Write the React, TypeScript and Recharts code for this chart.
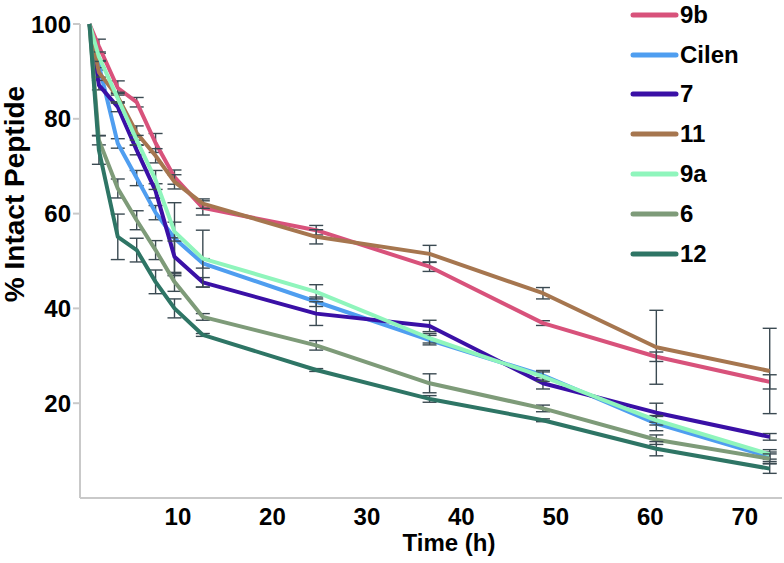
import React from "react";
import { LineChart, Line, XAxis, YAxis, ErrorBar } from "recharts";

// sampling times (h)
const times = [0, 1, 3, 5, 7, 9, 12, 24, 36, 48, 60, 72];

// % intact peptide per compound
const s9b = [100, 95.3, 86.5, 83.5, 74.9, 67.7, 61.2, 56.5, 48.8, 36.9, 29.8, 24.5];
const sCilen = [100, 91.3, 74.8, 67.5, 60.2, 54.8, 49.5, 41.4, 33.3, 25.9, 15.7, 8.7];
const s7 = [100, 87.1, 82.5, 73.4, 64.8, 50.9, 45.5, 38.9, 36.3, 24.2, 18.0, 12.9];
const s11 = [100, 89.8, 84.6, 77.0, 72.2, 66.7, 62.1, 55.1, 51.5, 43.2, 31.8, 26.8];
const s9a = [100, 93.1, 84.3, 75.5, 67.1, 56.2, 50.5, 43.5, 33.7, 25.6, 16.4, 9.2];
const s6 = [100, 75.5, 65.3, 58.6, 52.3, 45.6, 38.2, 32.2, 24.2, 18.9, 12.3, 8.3];
const s12 = [100, 73.4, 55.1, 52.3, 45.6, 40.0, 34.4, 27.0, 20.9, 16.4, 10.4, 6.2];

// error bar half-widths
const e9b = [0, 1.5, 1.5, 1, 2, 1.5, 1.5, 1, 1, 0.5, 1, 1.5];
const eCilen = [0, 1, 1, 1.6, 1.5, 7.5, 1, 1, 1, 1, 1.5, 1];
const e7 = [0, 1, 1, 1, 1.5, 4, 1, 2.5, 1.2, 1.2, 2, 0.7];
const e11 = [0, 1, 1, 1.5, 1.5, 1.5, 1, 1.5, 1.8, 1.2, 7.8, 9];
const e9a = [0, 1, 1, 1, 2, 2, 6, 1.5, 1, 1, 1, 1];
const e6 = [0, 1, 2, 2, 2, 2, 0.7, 1, 2, 0.7, 1, 1];
const e12 = [0, 3, 4.8, 2.5, 2.5, 2, 0.3, 0.3, 0.7, 0.3, 1.5, 1];

const names = ["9b", "Cilen", "7", "11", "9a", "6", "12"];
const colors = ["#d8527b", "#4f9ef0", "#3a10a6", "#a6764f", "#8ff5bc", "#7e9b79", "#2e7565"];
const values = [s9b, sCilen, s7, s11, s9a, s6, s12];
const errors = [e9b, eCilen, e7, e11, e9a, e6, e12];

const xTicks = [10, 20, 30, 40, 50, 60, 70];
const yTicks = [20, 40, 60, 80, 100];

const data = times.map((t, i) => {
  const row: Record<string, number> = { t };
  names.forEach((n, k) => {
    row["v" + n] = values[k][i];
    row["e" + n] = errors[k][i];
  });
  return row;
});

const FONT = "'Liberation Sans', Arial, sans-serif";
const tickStyle = { fontFamily: FONT, fontWeight: 700, fontSize: 24, fill: "#000" };

const YLabel = () => (
  <text
    x={24}
    y={194}
    transform="rotate(-90 24 194)"
    textAnchor="middle"
    style={{ ...tickStyle, fontSize: 28 }}
  >
    % Intact Peptide
  </text>
);

const XLabel = () => (
  <text x={449} y={551} textAnchor="middle" style={tickStyle}>
    Time (h)
  </text>
);

export default function App() {
  return (
    <div style={{ width: 784, height: 563, position: "relative", background: "#fff" }}>
      <style>{"body{margin:0}"}</style>
      <LineChart
        width={784}
        height={563}
        data={data}
        margin={{ top: 24, right: 2, bottom: 35, left: 0 }}
      >
        <XAxis
          dataKey="t"
          type="number"
          domain={[-1, 73.3]}
          ticks={xTicks}
          allowDataOverflow
          height={30}
          tickLine={false}
          tickMargin={4}
          axisLine={{ stroke: "#c9c9c9", strokeWidth: 2 }}
          tick={{ ...tickStyle, dx: -6 }}
          label={XLabel}
        />
        <YAxis
          type="number"
          domain={[0, 100]}
          ticks={yTicks}
          width={80}
          tickSize={7}
          tickMargin={2}
          tickLine={{ stroke: "#c9c9c9", strokeWidth: 2 }}
          axisLine={{ stroke: "#c9c9c9", strokeWidth: 2 }}
          tick={tickStyle}
          label={YLabel}
        />
        {names.map((n, k) => (
          <Line
            key={n}
            dataKey={"v" + n}
            name={n}
            type="linear"
            stroke={colors[k]}
            strokeWidth={4}
            strokeLinejoin="round"
            dot={false}
            isAnimationActive={false}
          >
            <ErrorBar
              dataKey={"e" + n}
              direction="y"
              width={7}
              stroke="#3b4a52"
              strokeWidth={1.4}
              isAnimationActive={false}
            />
          </Line>
        ))}
      </LineChart>
      <div style={{ position: "absolute", left: 628, top: -5, fontFamily: FONT }}>
        {names.map((n, k) => (
          <div key={n} style={{ display: "flex", alignItems: "center", height: 39.8 }}>
            <svg width={52} height={10}>
              <line x1={5} y1={5} x2={48} y2={5} stroke={colors[k]} strokeWidth={5} strokeLinecap="round" />
            </svg>
            <span style={{ fontWeight: 700, fontSize: 24, color: "#000" }}>{n}</span>
          </div>
        ))}
      </div>
    </div>
  );
}
